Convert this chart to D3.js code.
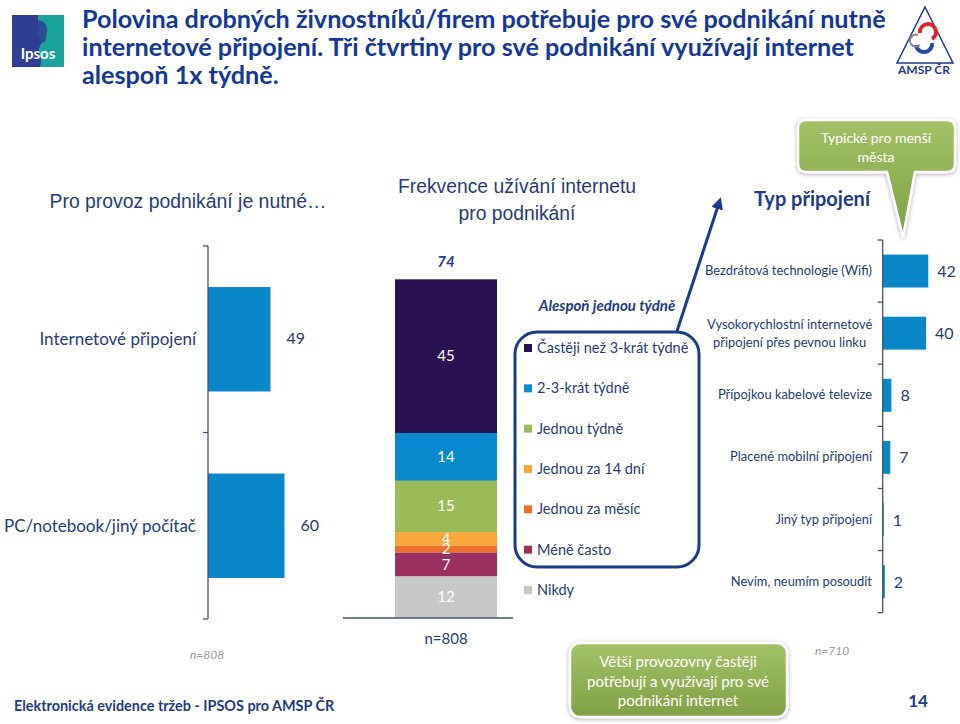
<!DOCTYPE html>
<html><head><meta charset="utf-8">
<script src="https://cdn.jsdelivr.net/npm/d3@7"></script>
<style>
html,body{margin:0;padding:0;background:#fff;}
svg{display:block;font-family:Lato,"Open Sans",sans-serif;}
</style></head>
<body>
<svg id="c" width="960" height="724"></svg>
<script>
// ---------- DATA ----------
const titleLines = ["Polovina drobných živnostníků/firem potřebuje pro své podnikání nutně",
  "internetové připojení. Tři čtvrtiny pro své podnikání využívají internet",
  "alespoň 1x týdně."];
const leftCats = ["Internetové připojení", "PC/notebook/jiný počítač"];
const leftVals = [49, 60];
const freqCats = ["Častěji než 3-krát týdně","2-3-krát týdně","Jednou týdně","Jednou za 14 dní","Jednou za měsíc","Méně často","Nikdy"];
const freqVals = [45, 14, 15, 4, 2, 7, 12];
const freqColors = ["#2a1152","#0a8ace","#9bbb59","#f9a83c","#ec6f2d","#9b2f5f","#c8c8c8"];
const weeklyTotal = 74;
const connCats = ["Bezdrátová technologie (Wifi)","Vysokorychlostní internetové|připojení přes pevnou linku","Přípojkou kabelové televize","Placené mobilní připojení","Jiný typ připojení","Nevím, neumím posoudit"];
const connVals = [42, 40, 8, 7, 1, 2];
const nLeft = "n=808", nMid = "n=808", nRight = "n=710";

// ---------- STYLE ----------
const NAVY = "#1f3a8a", TXT = "#233c7c", BAR = "#0a87c9", GREY = "#9a9a9a";
const ARIAL = "Liberation Sans, Arial, sans-serif";
const svg = d3.select("#c");
const defs = svg.append("defs");

// ---------- TITLE ----------
svg.append("g").selectAll("text").data(titleLines).join("text")
  .attr("x", 82).attr("y", (d,i)=>28+i*28)
  .attr("fill", "#14379a").attr("font-weight", 700).attr("font-size", 25.2)
  .text(d=>d);

// Ipsos logo
const lg = svg.append("g");
lg.append("rect").attr("x",12).attr("y",15).attr("width",52).attr("height",52).attr("fill","#2f3e93");
lg.append("path").attr("d","M38,15 L64,15 L64,67 L40,67 C44,58 36,54 40,46 C44,40 36,34 38,28 Z").attr("fill","#1aa39b");
lg.append("path").attr("d","M30,24 C36,18 46,20 47,28 C48,33 45,36 46,40 C44,44 38,44 36,40 C31,38 27,31 30,24 Z").attr("fill","#2f3e93").attr("opacity",0.85);
lg.append("text").attr("x",38).attr("y",59).attr("text-anchor","middle").attr("fill","#fff")
  .attr("font-weight",700).attr("font-size",15).text("Ipsos");

// AMSP logo
const am = svg.append("g");
am.append("path").attr("d","M925,7 L953,63 L897,63 Z").attr("fill","none").attr("stroke","#1f3a8a").attr("stroke-width",1.5);
am.append("path").attr("d","M920,33 a8,8 0 1 1 12,6").attr("fill","none").attr("stroke","#e3212b").attr("stroke-width",4);
am.append("path").attr("d","M916,45 a8,8 0 1 0 16,-2").attr("fill","none").attr("stroke","#2849a8").attr("stroke-width",4);
am.append("path").attr("d","M918,35 a6,6 0 1 0 2,10").attr("fill","none").attr("stroke","#888").attr("stroke-width",2);
am.append("text").attr("x",924).attr("y",74).attr("text-anchor","middle").attr("fill","#1f3a8a")
  .attr("font-weight",700).attr("font-size",12).text("AMSP ČR");

// ---------- SECTION HEADERS ----------
svg.append("text").attr("x",188).attr("y",208).attr("text-anchor","middle").attr("fill",TXT)
  .attr("font-family",ARIAL).attr("font-size",19.4).text("Pro provoz podnikání je nutné…");
svg.append("text").attr("x",517).attr("y",193).attr("text-anchor","middle").attr("fill",TXT)
  .attr("font-family",ARIAL).attr("font-size",19.3).text("Frekvence užívání internetu");
svg.append("text").attr("x",517).attr("y",220).attr("text-anchor","middle").attr("fill",TXT)
  .attr("font-family",ARIAL).attr("font-size",19.3).text("pro podnikání");
svg.append("text").attr("x",812).attr("y",206).attr("text-anchor","middle").attr("fill",NAVY)
  .attr("font-weight",700).attr("font-size",20).text("Typ připojení");

// ---------- LEFT CHART ----------
const yL = d3.scaleBand().domain(leftCats).range([246,619]).paddingInner(0.44).paddingOuter(0.22);
const xL = d3.scaleLinear().domain([0,100]).range([208,335.5]);
const gL = svg.append("g");
gL.selectAll("rect").data(leftCats).join("rect")
  .attr("x", xL(0)).attr("y", d=>yL(d)).attr("height", yL.bandwidth())
  .attr("width", (d,i)=>xL(leftVals[i])-xL(0)).attr("fill", BAR);
gL.selectAll(".v").data(leftCats).join("text").attr("class","v")
  .attr("x",(d,i)=>xL(leftVals[i])+16).attr("y",d=>yL(d)+yL.bandwidth()/2+5)
  .attr("fill",TXT).attr("font-size",16).text((d,i)=>leftVals[i]);
gL.selectAll(".c").data(leftCats).join("text").attr("class","c")
  .attr("x",196).attr("y",d=>yL(d)+yL.bandwidth()/2+6).attr("text-anchor","end")
  .attr("fill",TXT).attr("font-size",17).text(d=>d);
function bandAxis(g, scale, x0){
  const pi = scale.step()*scale.paddingInner()/2;
  const r = scale.range();
  const bounds = [r[0]].concat(scale.domain().slice(1).map(d=>scale(d)-pi)).concat([r[1]]);
  g.append("line").attr("x1",x0).attr("x2",x0).attr("y1",r[0]).attr("y2",r[1]).attr("stroke","#44546a").attr("stroke-width",1.3);
  g.selectAll(".tk").data(bounds).join("line").attr("class","tk")
    .attr("x1",x0-5).attr("x2",x0).attr("y1",d=>d).attr("y2",d=>d).attr("stroke","#44546a").attr("stroke-width",1.3);
}
bandAxis(gL, yL, xL(0));
svg.append("text").attr("x",207).attr("y",659).attr("text-anchor","middle").attr("fill",GREY)
  .attr("font-style","italic").attr("font-size",12).text(nLeft);

// ---------- STACKED BAR ----------
const total = d3.sum(freqVals);
const yS = d3.scaleLinear().domain([0,total]).range([617.5,279.3]);
const xS = d3.scaleBand().domain(["all"]).range([395,497]);
// stack from top: first category on top
const cum = []; let acc = total;
freqVals.forEach((v,i)=>{ cum.push([acc-v, acc]); acc -= v; });
const gS = svg.append("g");
gS.selectAll("rect").data(freqCats).join("rect")
  .attr("x",xS("all")).attr("width",xS.bandwidth())
  .attr("y",(d,i)=>yS(cum[i][1])).attr("height",(d,i)=>yS(cum[i][0])-yS(cum[i][1]))
  .attr("fill",(d,i)=>freqColors[i]);
gS.selectAll("text").data(freqCats).join("text")
  .attr("x",xS("all")+xS.bandwidth()/2)
  .attr("y",(d,i)=>(yS(cum[i][0])+yS(cum[i][1]))/2+5)
  .attr("text-anchor","middle").attr("fill","#fff").attr("font-size",15)
  .text((d,i)=>freqVals[i]);
svg.append("line").attr("x1",343).attr("x2",513).attr("y1",618).attr("y2",618).attr("stroke","#44546a").attr("stroke-width",1.3);
svg.append("text").attr("x",446).attr("y",267).attr("text-anchor","middle").attr("fill",NAVY)
  .attr("font-weight",700).attr("font-style","italic").attr("font-size",15).text(weeklyTotal);
svg.append("text").attr("x",446).attr("y",644).attr("text-anchor","middle").attr("fill",TXT)
  .attr("font-size",15).text(nMid);

// legend
const gLeg = svg.append("g");
const legY = d3.scalePoint().domain(freqCats).range([348,590]);
gLeg.selectAll("rect").data(freqCats).join("rect")
  .attr("x",524).attr("y",d=>legY(d)-4).attr("width",8).attr("height",8)
  .attr("fill",(d,i)=>freqColors[i]);
gLeg.selectAll("text").data(freqCats).join("text")
  .attr("x",537).attr("y",d=>legY(d)+5).attr("fill",TXT).attr("font-size",14.5).text(d=>d);
svg.append("rect").attr("x",515).attr("y",332).attr("width",184).attr("height",235).attr("rx",22)
  .attr("fill","none").attr("stroke","#1a3a8c").attr("stroke-width",3);
svg.append("text").attr("x",607).attr("y",311).attr("text-anchor","middle").attr("fill",NAVY)
  .attr("font-weight",700).attr("font-style","italic").attr("font-size",15).text("Alespoň jednou týdně");
defs.append("marker").attr("id","ah").attr("viewBox","0 0 10 10").attr("refX",5).attr("refY",5)
  .attr("markerWidth",4).attr("markerHeight",4).attr("orient","auto")
  .append("path").attr("d","M0,0 L10,5 L0,10 Z").attr("fill","#1a3a8c");
svg.append("line").attr("x1",677).attr("y1",331).attr("x2",719).attr("y2",203)
  .attr("stroke","#1a3a8c").attr("stroke-width",3).attr("marker-end","url(#ah)");

// ---------- RIGHT CHART ----------
const yR = d3.scaleBand().domain(connCats).range([240,612.7]).paddingInner(0.47).paddingOuter(0.235);
const xR = d3.scaleLinear().domain([0,100]).range([882.7,991.2]);
const gR = svg.append("g");
gR.selectAll("rect").data(connCats).join("rect")
  .attr("x",xR(0)).attr("y",d=>yR(d)).attr("height",yR.bandwidth())
  .attr("width",(d,i)=>xR(connVals[i])-xR(0)).attr("fill",BAR);
gR.selectAll(".v").data(connCats).join("text").attr("class","v")
  .attr("x",(d,i)=>xR(connVals[i])+9).attr("y",d=>yR(d)+yR.bandwidth()/2+6)
  .attr("fill",TXT).attr("font-size",16).text((d,i)=>connVals[i]);
gR.selectAll(".c").data(connCats).join("text").attr("class","c")
  .each(function(d){
    const parts = d.split("|");
    const t = d3.select(this).attr("fill",TXT).attr("font-size",12.9);
    const cy = yR(d)+yR.bandwidth()/2;
    if(parts.length===1){
      t.attr("x",872).attr("y",cy+4).attr("text-anchor","end").text(parts[0]);
    } else {
      t.attr("text-anchor","middle");
      parts.forEach((p,j)=>t.append("tspan").attr("x",789.6).attr("y",cy-4+j*18).text(p));
    }
  });
bandAxis(gR, yR, xR(0));
svg.append("text").attr("x",832).attr("y",655).attr("text-anchor","middle").attr("fill",GREY)
  .attr("font-style","italic").attr("font-size",12).text(nRight);

// ---------- CALLOUTS ----------
const gr = defs.append("linearGradient").attr("id","gg").attr("x1",0).attr("y1",0).attr("x2",0).attr("y2",1);
gr.append("stop").attr("offset","0%").attr("stop-color","#a3c268");
gr.append("stop").attr("offset","100%").attr("stop-color","#7fa044");
const flt = defs.append("filter").attr("id","sh").attr("x","-20%").attr("y","-20%").attr("width","140%").attr("height","140%");
flt.append("feDropShadow").attr("dx",0).attr("dy",1).attr("stdDeviation",2).attr("flood-color","#000").attr("flood-opacity",0.35);

svg.append("path")
  .attr("d","M806,120 L947,120 Q955,120 955,128 L955,164 Q955,172 947,172 L915,172 L903,237 L887,172 L806,172 Q798,172 798,164 L798,128 Q798,120 806,120 Z")
  .attr("fill","url(#gg)").attr("stroke","#fff").attr("stroke-width",2.5).attr("filter","url(#sh)");
svg.append("text").attr("x",876).attr("y",143).attr("text-anchor","middle").attr("fill","#fff").attr("font-size",14).text("Typické pro menší");
svg.append("text").attr("x",876).attr("y",162).attr("text-anchor","middle").attr("fill","#fff").attr("font-size",14).text("města");

svg.append("rect").attr("x",570).attr("y",643).attr("width",217).attr("height",74).attr("rx",10)
  .attr("fill","url(#gg)").attr("stroke","#fff").attr("stroke-width",2.5).attr("filter","url(#sh)");
["Větší provozovny častěji","potřebují a využívají pro své","podnikání internet"].forEach((s,i)=>{
  svg.append("text").attr("x",678).attr("y",667+i*19.5).attr("text-anchor","middle").attr("fill","#fff").attr("font-size",15).text(s);
});

// ---------- FOOTER ----------
svg.append("text").attr("x",14).attr("y",711).attr("fill",NAVY).attr("font-weight",700).attr("font-size",14.4)
  .text("Elektronická evidence tržeb - IPSOS pro AMSP ČR");
svg.append("text").attr("x",918).attr("y",707).attr("text-anchor","middle").attr("fill",NAVY).attr("font-weight",700).attr("font-size",17).text("14");
</script>
</body></html>
